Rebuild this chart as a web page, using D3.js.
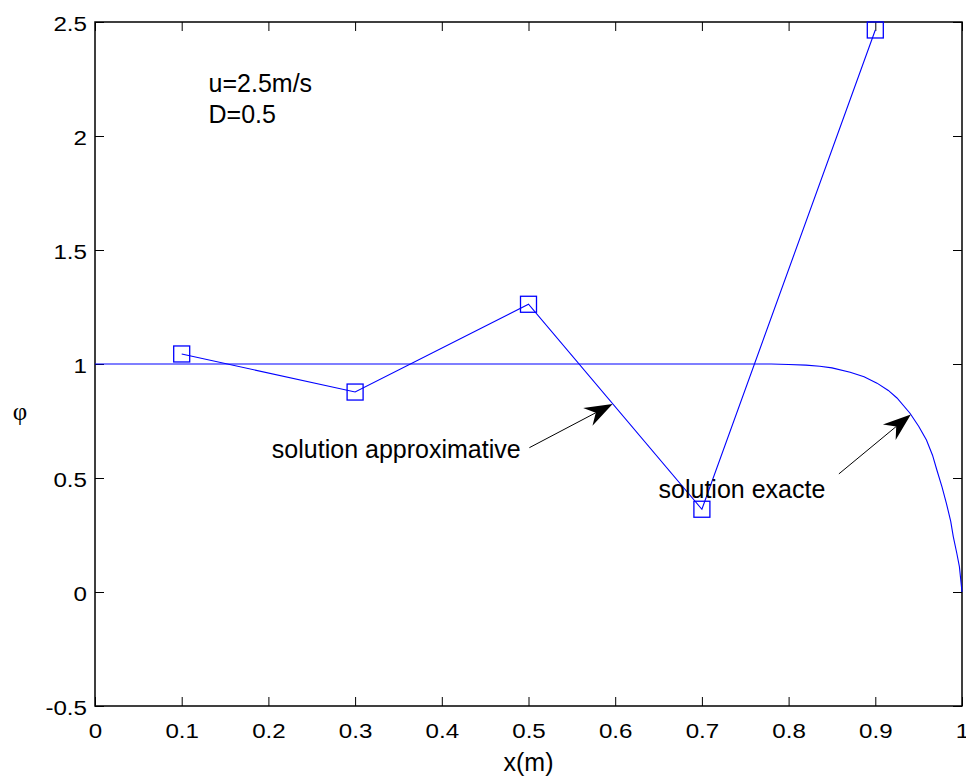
<!DOCTYPE html>
<html>
<head>
<meta charset="utf-8">
<script src="https://cdn.jsdelivr.net/npm/d3@7"></script>
<style>
  body { margin: 0; background: #fff; }
  svg { display: block; }
  text { font-family: "Liberation Sans", Arial, sans-serif; fill: #000; }
</style>
</head>
<body>
<div id="chart"></div>
<script>
// nodes of the discrete (approximate) scheme
const xNodes = [0.1, 0.3, 0.5, 0.7, 0.9];
const phiApprox = [1.044, 0.877, 1.262, 0.363, 2.465];

// exact profile, sampled
const xExact = [0, 0.2, 0.4, 0.6, 0.78, 0.80, 0.82, 0.836, 0.85, 0.871, 0.887, 0.902, 0.915,
                0.925, 0.94, 0.95, 0.959, 0.966, 0.971, 0.977, 0.982, 0.987, 0.990, 0.994, 0.997, 1];
const phiExact = [1, 1, 1, 1, 1, 0.998, 0.995, 0.99, 0.983, 0.964, 0.944, 0.916, 0.884,
                  0.851, 0.784, 0.727, 0.667, 0.6, 0.535, 0.46, 0.389, 0.31, 0.242, 0.17, 0.111, 0];

const xTicks = [0, 0.1, 0.2, 0.3, 0.4, 0.5, 0.6, 0.7, 0.8, 0.9, 1];
const yTicks = [-0.5, 0, 0.5, 1, 1.5, 2, 2.5];

// annotations: text position and arrow (tail -> tip) in data units
const notes = [
  { text: 'solution approximative', x: 0.204, y: 0.586, tail: [0.501, 0.633], tip: [0.597, 0.825] },
  { text: 'solution exacte', x: 0.650, y: 0.412, tail: [0.858, 0.518], tip: [0.941, 0.779] }
];
const params = [
  { text: 'u=2.5m/s', x: 0.131, y: 2.193 },
  { text: 'D=0.5', x: 0.131, y: 2.057 }
];

const W = 966, H = 778;
const margin = { left: 95, right: 4, top: 22, bottom: 72 };
const BLUE = '#0000ff';
const TICK = 9;

const svg = d3.select('#chart').append('svg')
  .attr('width', W)
  .attr('height', H);

svg.append('rect').attr('width', W).attr('height', H).attr('fill', '#fff');

const xScale = d3.scaleLinear().domain([0, 1]).range([margin.left, W - margin.right]);
const yScale = d3.scaleLinear().domain([-0.5, 2.5]).range([H - margin.bottom, margin.top]);

const x0 = xScale(0), x1 = xScale(1), y0 = yScale(-0.5), y1 = yScale(2.5);

// plain hyphen for negatives, like the plotting tool prints them
const fmt = d => String(d);

// axes, ticks pointing inwards on all four sides
const styleAxis = g => {
  g.select('.domain').remove();
  g.selectAll('line').attr('stroke', '#000').attr('stroke-width', 1);
  g.selectAll('text').style('font-size', '21px');
};

svg.append('g')
   .attr('transform', `translate(0, ${y0})`)
   .call(d3.axisBottom(xScale).tickValues(xTicks).tickFormat(fmt).tickSizeInner(-TICK).tickSizeOuter(0).tickPadding(17))
   .call(styleAxis)
   .selectAll('text').attr('transform', 'scale(1.15,1)');

svg.append('g')
   .attr('transform', `translate(0, ${y1})`)
   .call(d3.axisTop(xScale).tickValues(xTicks).tickFormat('').tickSizeInner(-TICK).tickSizeOuter(0))
   .call(styleAxis);

svg.append('g')
   .attr('transform', `translate(${x0}, 0)`)
   .call(d3.axisLeft(yScale).tickValues(yTicks).tickFormat(fmt).tickSizeInner(-TICK).tickSizeOuter(0).tickPadding(7))
   .call(styleAxis)
   .selectAll('text').attr('transform', 'scale(1.15,1)').attr('dy', '0.4em');

svg.append('g')
   .attr('transform', `translate(${x1}, 0)`)
   .call(d3.axisRight(yScale).tickValues(yTicks).tickFormat('').tickSizeInner(-TICK).tickSizeOuter(0))
   .call(styleAxis);

// box
svg.append('rect')
   .attr('x', x0).attr('y', y1)
   .attr('width', x1 - x0).attr('height', y0 - y1)
   .attr('fill', 'none').attr('stroke', '#000').attr('stroke-width', 1.5);

// exact solution
const exactLine = d3.line().x(d => xScale(d[0])).y(d => yScale(d[1]));
svg.append('path')
   .datum(d3.zip(xExact, phiExact))
   .attr('d', exactLine)
   .attr('fill', 'none').attr('stroke', BLUE).attr('stroke-width', 1.1);

// approximate solution with square markers
const approx = d3.zip(xNodes, phiApprox);
svg.append('path')
   .datum(approx)
   .attr('d', exactLine)
   .attr('fill', 'none').attr('stroke', BLUE).attr('stroke-width', 1.1);

const MK = 16;
svg.selectAll('rect.marker')
   .data(approx)
   .enter()
   .append('rect')
   .attr('class', 'marker')
   .attr('x', d => xScale(d[0]) - MK / 2)
   .attr('y', d => yScale(d[1]) - MK / 2)
   .attr('width', MK).attr('height', MK)
   .attr('fill', 'none').attr('stroke', BLUE).attr('stroke-width', 1.3);

// annotation arrows
const drawArrow = (tail, tip) => {
  const tx = xScale(tail[0]), ty = yScale(tail[1]);
  const hx = xScale(tip[0]), hy = yScale(tip[1]);
  const len = Math.hypot(hx - tx, hy - ty);
  const ux = (hx - tx) / len, uy = (hy - ty) / len;
  const px = -uy, py = ux;
  const headLen = 28, headW = 10, notch = 19;
  svg.append('line')
     .attr('x1', tx).attr('y1', ty)
     .attr('x2', hx - ux * notch).attr('y2', hy - uy * notch)
     .attr('stroke', '#000').attr('stroke-width', 1);
  const pts = [
    [hx, hy],
    [hx - ux * headLen + px * headW, hy - uy * headLen + py * headW],
    [hx - ux * notch, hy - uy * notch],
    [hx - ux * headLen - px * headW, hy - uy * headLen - py * headW]
  ];
  svg.append('path')
     .attr('d', 'M' + pts.map(p => p.join(',')).join('L') + 'Z')
     .attr('fill', '#000');
};

notes.forEach(n => {
  drawArrow(n.tail, n.tip);
  svg.append('text')
     .attr('x', xScale(n.x)).attr('y', yScale(n.y))
     .style('font-size', '25px')
     .text(n.text);
});

params.forEach(p => {
  svg.append('text')
     .attr('x', xScale(p.x)).attr('y', yScale(p.y))
     .style('font-size', '25px')
     .text(p.text);
});

// axis labels
svg.append('text')
   .attr('x', (x0 + x1) / 2).attr('y', 771)
   .attr('text-anchor', 'middle')
   .style('font-size', '25px')
   .text('x(m)');

svg.append('text')
   .attr('x', 20).attr('y', 420)
   .attr('text-anchor', 'middle')
   .style('font-family', '"Liberation Serif", "DejaVu Serif", serif')
   .style('font-size', '25px')
   .text('φ');
</script>
</body>
</html>
